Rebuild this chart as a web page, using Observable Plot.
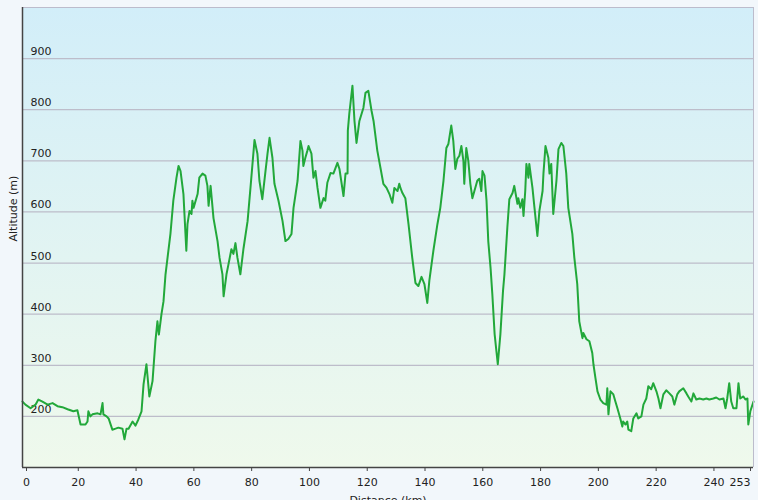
<!DOCTYPE html>
<html><head><meta charset="utf-8">
<script src="https://cdn.jsdelivr.net/npm/d3@7"></script>
<script src="https://cdn.jsdelivr.net/npm/@observablehq/plot@0.6"></script>
<style>
html,body{margin:0;padding:0;background:#f2f7fb;}
#chart{width:758px;height:500px;overflow:hidden;}
</style></head><body><div id="chart"></div>
<script>
const distanceKm = [0,1.0,2.8,4.5,5.5,6.9,8.7,10.4,12.1,13.8,
15.6,17.6,19.0,20.1,21.8,22.5,22.8,23.5,24.2,26.0,
27.0,27.7,28.0,29.1,29.8,31.1,32.2,33.2,34.6,35.3,
36.0,36.7,38.1,39.1,40.1,41.2,41.9,42.9,43.9,45.0,
46.0,46.7,47.2,48.1,48.8,49.5,51.2,52.2,53.3,54.0,
54.7,55.7,56.7,57.1,57.8,58.5,58.8,59.2,60.6,61.2,
62.3,63.3,64.0,64.4,65.1,66.1,67.5,68.2,69.2,69.6,
70.6,71.3,72.3,73.0,73.7,74.4,75.4,76.5,77.9,78.9,
79.9,80.3,81.3,82.0,83.0,84.1,84.8,85.5,86.5,87.2,
88.6,90.0,91.0,92.0,93.1,93.8,95.2,96.2,96.9,97.2,
97.9,98.6,99.0,100.0,100.7,101.4,102.1,103.1,104.2,104.8,
105.5,106.6,107.6,109.0,109.7,111.1,111.8,112.5,112.6,113.1,
114.2,114.9,115.6,116.6,118.0,118.7,119.7,120.8,121.5,122.8,
123.9,124.9,126.0,127.0,128.0,128.7,129.8,130.4,130.8,131.5,
132.5,133.6,134.9,136.0,137.0,138.1,139.1,140.1,140.8,142.2,
143.6,144.6,145.7,146.7,147.4,148.4,149.1,149.8,150.5,151.2,
151.9,152.6,152.9,153.6,154.3,155.0,155.7,156.4,157.4,158.1,
158.8,159.2,159.9,160.6,161.2,162.0,162.6,163.4,164.5,165.4,
166.3,166.8,167.8,168.5,169.6,170.2,171.3,171.6,172.3,173.0,
173.4,174.0,174.4,175.1,175.4,176.5,177.2,178.2,178.9,180.0,
180.3,181.0,182.0,182.4,183.0,183.7,184.8,185.5,186.5,187.2,
188.2,188.9,190.3,191.0,192.0,192.7,193.8,194.1,195.2,196.2,
197.2,197.6,198.3,199.0,200.0,201.0,202.1,202.4,202.8,203.5,
204.5,205.2,205.9,206.9,207.6,207.9,208.7,209.3,209.7,210.7,
211.4,212.5,213.1,214.2,214.9,215.9,216.6,217.6,218.3,219.4,
220.1,220.8,221.8,222.8,223.9,224.9,225.6,226.6,227.3,228.7,
229.8,230.4,231.5,232.2,233.2,234.3,235.6,236.7,237.7,239.1,
240.1,241.2,242.6,243.3,243.9,244.6,245.3,246.0,247.1,247.8,
248.4,249.5,250.2,250.9,251.2,251.9,253.0];

const altitudeM = [229,223,216,223,233,229,223,226,220,218,
214,210,212,184,184,190,210,200,204,206,
204,226,204,200,196,174,176,178,176,155,
176,176,190,182,194,210,263,302,239,269,
347,386,360,400,425,478,557,622,667,690,
680,635,524,576,602,596,622,608,635,667,
675,671,651,612,651,588,543,510,478,435,
478,498,527,518,539,510,478,529,582,647,
714,741,714,661,625,680,714,745,706,655,
622,582,543,547,557,608,661,739,720,690,
706,720,729,714,667,680,647,608,627,622,
657,676,675,696,684,631,675,675,759,792,
847,778,735,778,804,833,837,798,778,720,
686,655,647,635,618,647,641,655,647,637,
627,576,510,461,455,473,459,422,465,524,
576,608,661,725,733,769,739,684,704,710,
729,700,655,725,700,655,627,641,661,665,
641,680,671,622,543,490,440,361,302,361,
445,478,569,625,637,651,616,627,608,625,
592,641,694,667,694,647,608,553,602,641,
675,729,706,675,694,596,661,723,735,729,
675,608,557,510,459,386,353,363,351,347,
324,302,275,249,233,226,223,255,204,249,
243,229,216,196,180,190,184,190,174,171,
196,206,196,200,223,235,259,253,265,249,
235,216,243,251,245,239,223,243,249,255,
245,239,229,245,233,235,233,235,233,235,
237,233,235,216,235,265,229,216,216,265,
235,239,233,235,184,210,229];

const xTicks = [0,20,40,60,80,100,120,140,160,180,200,220,240,253];
const yTicks = [200,300,400,500,600,700,800,900];
const xLabel = "Distance (km)";
const yLabel = "Altitude (m)";

const profile = distanceKm.map((d, i) => ({d, a: altitudeM[i]}));

const background = (index, scales, values, dims) => {
  const g = d3.create("svg:g");
  const grad = g.append("defs").append("linearGradient")
    .attr("id", "bgGrad").attr("x1", 0).attr("y1", 0).attr("x2", 0).attr("y2", 1);
  grad.append("stop").attr("offset", "0%").attr("stop-color", "#d2eef9");
  grad.append("stop").attr("offset", "100%").attr("stop-color", "#eff9ec");
  g.append("rect")
    .attr("x", dims.marginLeft).attr("y", dims.marginTop)
    .attr("width", dims.width - dims.marginLeft - dims.marginRight)
    .attr("height", dims.height - dims.marginTop - dims.marginBottom)
    .attr("fill", "url(#bgGrad)");
  return g.node();
};

const axisCommon = {tickSize: 4, tickPadding: 7, label: null, stroke: "#444", fontSize: 11};

const chart = Plot.plot({
  width: 758,
  height: 500,
  marginLeft: 22,
  marginRight: 5,
  marginTop: 7,
  marginBottom: 33,
  style: {background: "transparent", fontFamily: "'DejaVu Sans', Verdana, sans-serif", fontSize: "11px", color: "#222"},
  x: {domain: [0, 253]},
  y: {domain: [100, 1000]},
  marks: [
    background,
    Plot.gridY(yTicks, {stroke: "#bdbdca", strokeOpacity: 1, strokeWidth: 1.3}),
    Plot.axisY({ticks: yTicks, anchor: "left", tickSize: 0, tickPadding: 0, textAnchor: "start", dx: 8, dy: -7, label: null, fontSize: 11}),
    Plot.line(profile, {x: "d", y: "a", stroke: "#22a83a", strokeWidth: 2, strokeLinejoin: "round"}),
    Plot.ruleY([1000], {stroke: "#bcbccc", strokeWidth: 1}),
    Plot.ruleX([253], {stroke: "#bcbccc", strokeWidth: 1}),
    Plot.ruleY([100], {stroke: "#444", strokeWidth: 1.5}),
    Plot.ruleX([0], {stroke: "#444", strokeWidth: 1.5}),
    Plot.axisX({...axisCommon, ticks: xTicks.slice(1, -1), dx: -2}),
    Plot.axisX({...axisCommon, ticks: [xTicks[0]], dx: 4}),
    Plot.axisX({...axisCommon, ticks: [xTicks[xTicks.length - 1]], textAnchor: "end", dx: -3}),
    Plot.text([yLabel], {text: d => d, frameAnchor: "left", dx: -9, dy: 4, rotate: -90, fontSize: 11, fill: "#222"}),
    Plot.text([xLabel], {text: d => d, frameAnchor: "bottom", lineAnchor: "top", dy: 29, fontSize: 11, fill: "#222"})
  ]
});
document.getElementById("chart").appendChild(chart);
</script>
</body></html>
